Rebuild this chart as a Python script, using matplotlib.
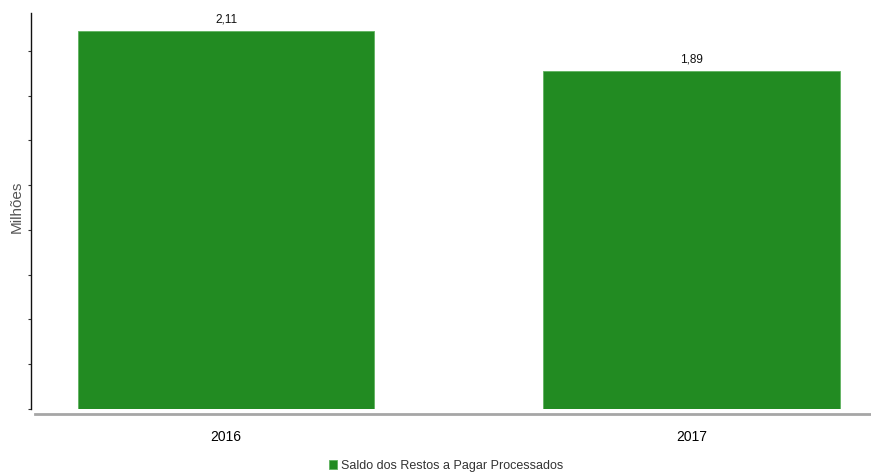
import matplotlib
matplotlib.use("Agg")
import matplotlib.pyplot as plt
import numpy as np

categories = ["2016", "2017"]
values = [2.11, 1.89]
value_labels = ["2,11", "1,89"]
series_name = "Saldo dos Restos a Pagar Processados"
y_ticks = [0, 0.25, 0.5, 0.75, 1.0, 1.25, 1.5, 1.75, 2.0]

plt.rcParams['font.family'] = ['Liberation Sans', 'DejaVu Sans']

W, H = 871, 475
fig = plt.figure(figsize=(W / 100, H / 100), dpi=100)
ax = fig.add_axes([31 / W, 1 - 409 / H, (871 - 31) / W, (409 - 13) / H])

x = np.arange(len(categories))
bars = ax.bar(x, values, width=0.636, color="#228B22", edgecolor="#5fb35f",
              linewidth=0.6, label=series_name, zorder=2)

ax.set_xlim((31 - 226) / 465.5, (871 - 226) / 465.5)
ax.set_ylim(0, 2.212)

for b, lab in zip(bars, value_labels):
    ax.annotate(lab, (b.get_x() + b.get_width() / 2, b.get_height()),
                xytext=(0, 4), textcoords="offset points",
                ha="center", va="bottom", fontsize=8.5, color="#111111")

ax.set_xticks(x)
ax.set_xticklabels(categories, fontsize=10.5, color="#4a4a4a")
ax.tick_params(axis="x", length=0, pad=11)

ax.set_yticks(y_ticks)
ax.set_yticklabels([])
ax.tick_params(axis="y", length=2.5, width=0.8, color="#333333", direction="out")

ax.set_ylabel("Milhões", fontsize=11, color="#555555")
ax.yaxis.set_label_coords(-7 / 840, 0.51)

for s in ["top", "right"]:
    ax.spines[s].set_visible(False)
ax.spines["left"].set_color("#111111")
ax.spines["left"].set_linewidth(1.0)
ax.spines["bottom"].set_color("#a6a6a6")
ax.spines["bottom"].set_linewidth(2.0)
ax.spines["bottom"].set_position(("outward", 3.8))
ax.spines["bottom"].set_bounds((35 - 226) / 465.5, (871 - 226) / 465.5)

leg = fig.legend(handles=[bars], labels=[series_name], loc="center",
                 bbox_to_anchor=(446 / W, 1 - 466 / H), frameon=False,
                 fontsize=9, handlelength=0.7, handleheight=0.7,
                 handletextpad=0.3, labelcolor="#333333")

fig.savefig("out.png", dpi=100)
